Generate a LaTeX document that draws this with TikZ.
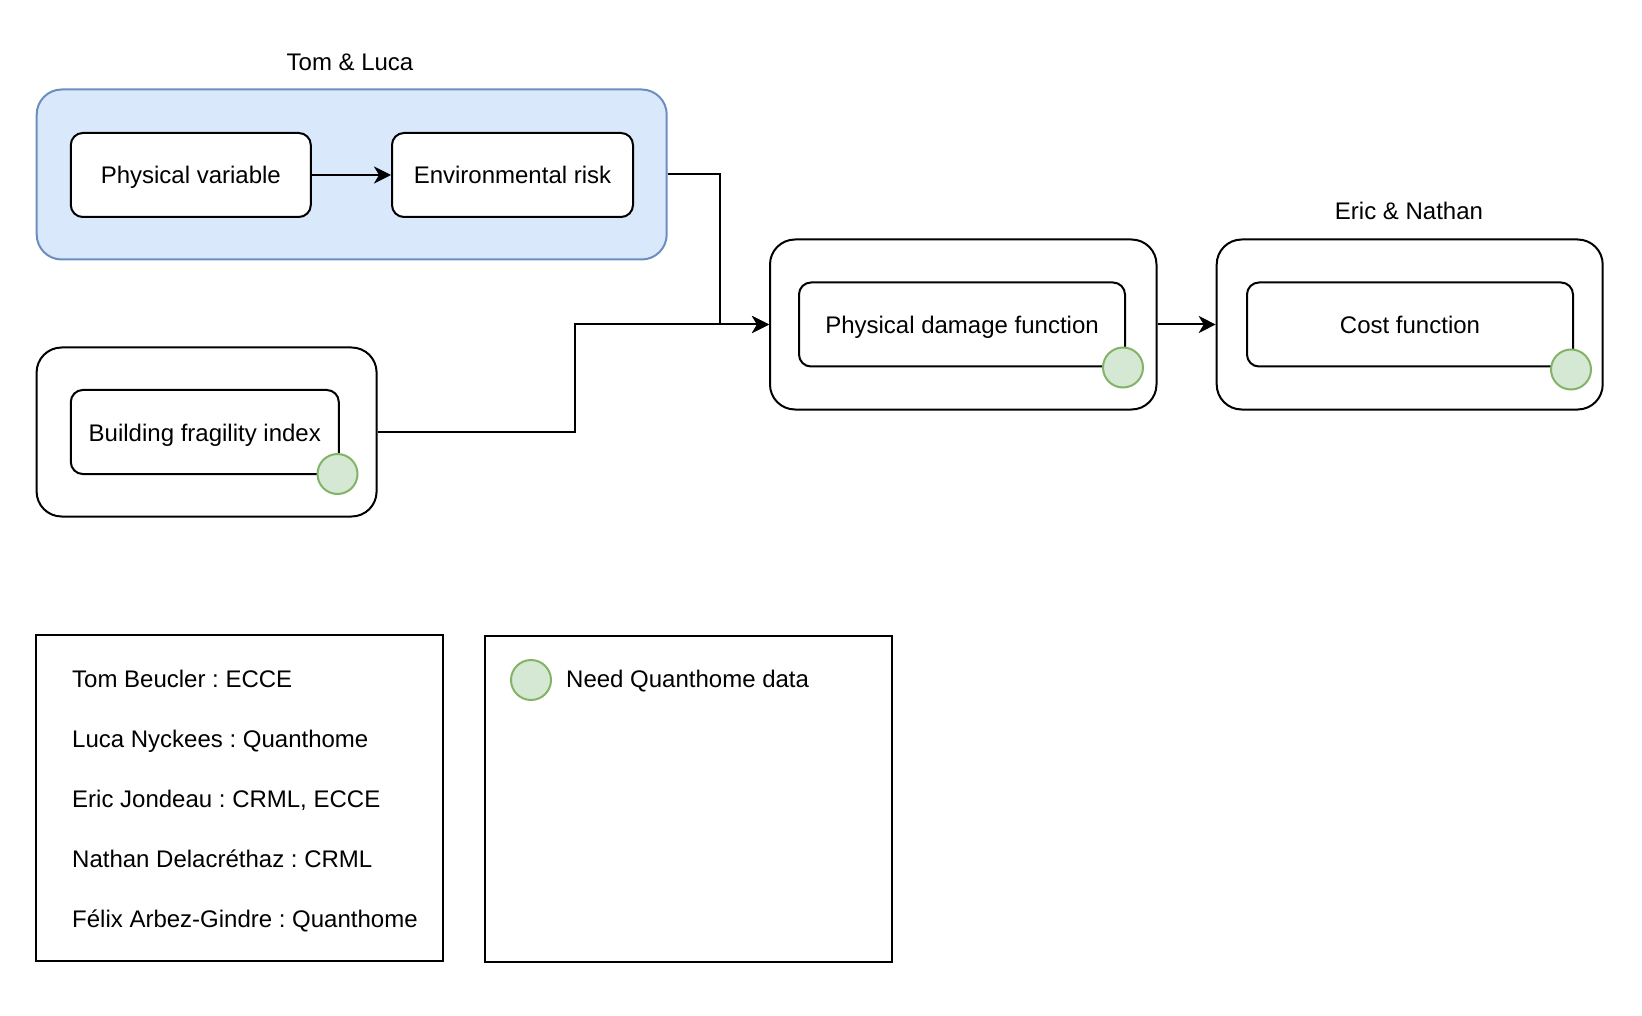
\documentclass[tikz,border=0pt]{standalone}
\usepackage{fontspec}
\setmainfont{Liberation Sans}
\usetikzlibrary{arrows.meta}
\frenchspacing
\definecolor{bluefill}{HTML}{DAE8FC}
\definecolor{bluedraw}{HTML}{6C8EBF}
\definecolor{greenfill}{HTML}{D5E8D4}
\definecolor{greendraw}{HTML}{82B366}
\tikzset{
  every node/.style={font=\fontsize{24}{28}\selectfont, inner sep=0pt},
  txt/.style={text height=20pt, text depth=2pt},
  outerbox/.style={draw=black, line width=2pt, rounded corners=25pt, minimum width=#1, minimum height=170pt},
  innerbox/.style={txt, draw=black, line width=2pt, fill=white, rounded corners=12pt, minimum width=#1, minimum height=84pt},
  flag/.style={circle, draw=greendraw, fill=greenfill, line width=2pt, minimum size=40pt},
  legbox/.style={draw=black, line width=2pt, minimum width=407pt, minimum height=326pt},
  conn/.style={draw=black, line width=2pt, -{Stealth[length=17pt, width=17pt, inset=5pt]}},
  grouplabel/.style={txt, anchor=center},
  legtext/.style={txt, anchor=west}
}
\begin{document}
\begin{tikzpicture}[x=1pt, y=-1pt]
\useasboundingbox (0,0) rectangle (1642,1016);
% Group: Tom & Luca
\node[outerbox=630pt, draw=bluedraw, fill=bluefill] (blue) at (351.7,174.5) {};
\node[grouplabel] (tl) at (350,62) {Tom \& Luca};
\node[innerbox=240pt] (pv) at (190.8,175) {Physical variable};
\node[innerbox=241pt] (er) at (512.5,175) {Environmental risk};
\draw[conn] (pv.east) -- (er.west);
% Building fragility
\node[outerbox=340pt, minimum height=169pt] (bfo) at (206.6,432) {};
\node[innerbox=268pt] (bfi) at (204.8,432) {Building fragility index};
\node[flag] (bfc) at (337.5,474) {};
% Physical damage function
\node[outerbox=386.5pt] (pdfo) at (963.25,324.5) {};
\node[innerbox=326pt] (pdfi) at (962,324.5) {Physical damage function};
\node[flag] (pdfc) at (1123,367.5) {};
% Cost function
\node[outerbox=386pt] (costo) at (1409.7,324.5) {};
\node[grouplabel] (en) at (1409,211) {Eric \& Nathan};
\node[innerbox=326pt] (costi) at (1410,324.5) {Cost function};
\node[flag] (costc) at (1571,369.5) {};
% connectors
\draw[conn] (blue.east) -- ++(52,0) |- (pdfo.west);
\draw[conn] (bfo.east) -- ++(197.4,0) |- (pdfo.west);
\draw[conn] (pdfo.east) -- (costo.west);
% legends
\node[legbox] (leg1) at (239.75,798) {};
\node[legtext] (l1) at (72,678) {Tom Beucler : ECCE};
\node[legtext] (l2) at (72,738) {Luca Nyckees : Quanthome};
\node[legtext] (l3) at (72,798) {Eric Jondeau : CRML, ECCE};
\node[legtext] (l4) at (72,858) {Nathan Delacréthaz : CRML};
\node[legtext] (l5) at (72,918) {Félix Arbez-Gindre : Quanthome};
\node[legbox] (leg2) at (688,799) {};
\node[flag] (legc) at (531,680) {};
\node[legtext] (lt) at (566,678) {Need Quanthome data};
\end{tikzpicture}
\end{document}
